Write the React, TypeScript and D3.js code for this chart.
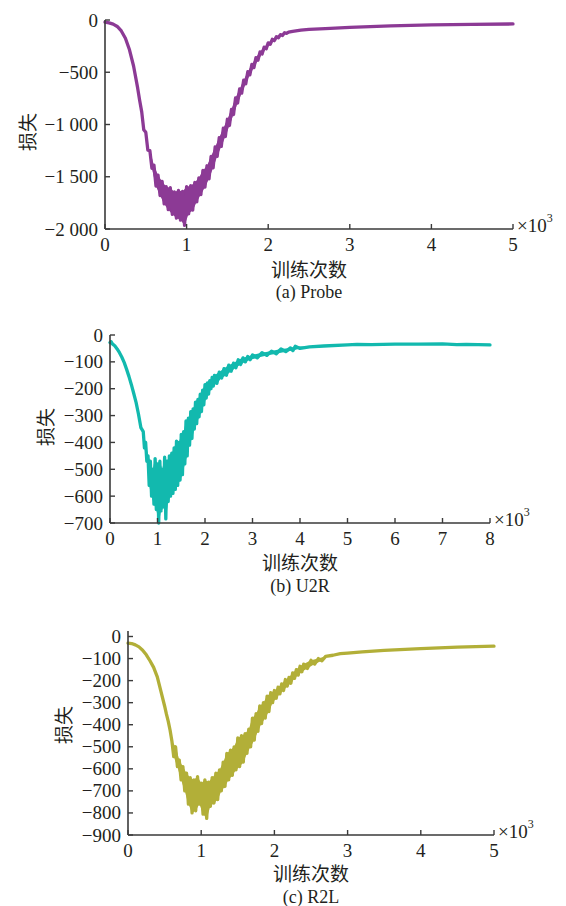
import React from "react";
import * as d3 from "d3";

// ---------- DATA ----------
// (a) Probe: iterations and loss
const probeIter = [
  0, 50, 100, 150, 200, 250, 300, 350, 400, 425,
  450, 475, 500, 525, 550, 575, 600, 625, 650, 675, 700, 725, 750, 775, 800, 825, 850, 875, 900, 925,
  950, 975, 1000, 1025, 1050, 1075, 1100, 1125, 1150, 1175, 1200, 1225, 1250, 1275, 1300, 1325, 1350, 1375,
  1400, 1425, 1450, 1475, 1500, 1525, 1550, 1575, 1600, 1625, 1650, 1675, 1700, 1725, 1750, 1775, 1800,
  1825, 1850, 1875, 1900, 1925, 1950, 1975, 2000, 2025, 2050, 2075, 2100, 2125, 2150, 2175, 2200, 2225,
  2250, 2300, 2400, 2500, 2700, 3000, 3500, 4000, 4500, 5000,
];
const probeLoss = [
  -20, -28, -40, -62, -105, -175, -285, -440, -650, -770,
  -879, -1050, -1075, -1245, -1250, -1420, -1390, -1590, -1485, -1680, -1545, -1760, -1595, -1815, -1605,
  -1860, -1645, -1895, -1630, -1915, -1640, -1965, -1595, -1855, -1585, -1820, -1555, -1740, -1510, -1670,
  -1440, -1600, -1395, -1520, -1305, -1415, -1215, -1305, -1125, -1210, -1035, -1115, -950, -1010, -855,
  -905, -745, -795, -660, -700, -575, -610, -495, -525, -425, -455, -360, -385, -305, -325, -260, -276,
  -219, -233, -185, -198, -160, -170, -140, -148, -122, -128,
  -116, -108, -97, -89, -82, -70, -56, -46, -41, -38,
];

// (b) U2R
const u2rIter = [
  0, 25, 50, 100, 150, 200, 250, 300, 350, 400, 450, 500, 550, 600, 650,
  700, 725, 750, 775, 800, 825, 850, 875, 900, 925, 950, 975, 1000, 1025, 1050, 1075, 1100, 1125, 1150,
  1175, 1200, 1225, 1250, 1275, 1300, 1325, 1350, 1375, 1400, 1425, 1450, 1475, 1500, 1525, 1550, 1575,
  1600, 1625, 1650, 1675, 1700, 1725, 1750, 1775, 1800, 1825, 1850, 1875, 1900, 1925, 1950, 1975, 2000,
  2025, 2050, 2075, 2100, 2125, 2150, 2175, 2200, 2250, 2300, 2350, 2400, 2450, 2500, 2550, 2600, 2650,
  2700, 2750, 2800, 2850, 2900, 2950, 3000, 3100, 3200, 3300, 3400, 3500, 3600, 3700, 3800, 3850, 3900,
  4000, 4200, 4500, 5000, 5200, 5500, 6000, 6500, 7000, 7300, 7500, 8000,
];
const u2rLoss = [
  -28, -25, -33, -40, -52, -66, -83, -103, -128, -155, -185, -218, -252, -295, -345,
  -360, -420, -400, -470, -450, -560, -470, -600, -500, -630, -460, -650, -480, -700, -470, -655, -500,
  -640, -455, -685, -470, -620, -450, -600, -440, -590, -420, -575, -395, -560, -400, -540, -370, -520,
  -360, -480, -320, -450, -310, -410, -285, -385, -275, -350, -250, -330, -240, -305, -220, -285, -205,
  -260, -185, -235, -178, -220, -170, -200, -158, -190, -150, -180, -138, -160, -125, -150, -112, -135,
  -105, -122, -92, -110, -85, -100, -80, -92, -74, -85, -66, -76, -60, -70, -52, -62, -48, -58, -42,
  -50, -44, -41, -37, -35, -36, -34, -34, -33, -36, -35, -37,
];

// (c) R2L
const r2lIter = [
  0, 50, 100, 150, 200, 250, 300, 350, 400, 450, 500, 525, 550, 575,
  600, 625, 650, 675, 700, 725, 750, 775, 800, 825, 850, 875, 900, 925, 950, 975, 1000, 1025, 1050, 1075,
  1100, 1125, 1150, 1175, 1200, 1225, 1250, 1275, 1300, 1325, 1350, 1375, 1400, 1425, 1450, 1475, 1500,
  1525, 1550, 1575, 1600, 1625, 1650, 1675, 1700, 1725, 1750, 1775, 1800, 1825, 1850, 1875, 1900, 1925,
  1950, 1975, 2000, 2025, 2050, 2075, 2100, 2125, 2150, 2175, 2200, 2225, 2250, 2275, 2300, 2325, 2350,
  2375, 2400, 2450, 2500, 2550, 2600, 2650, 2700, 2800, 2900, 3000, 3200, 3500, 4000, 4500, 5000,
];
const r2lLoss = [
  -30, -32, -38, -47, -62, -83, -110, -140, -183, -249, -315, -352, -385, -425,
  -475, -545, -500, -590, -560, -650, -590, -700, -620, -760, -640, -800, -650, -790, -635, -760, -665,
  -805, -650, -825, -660, -770, -640, -755, -620, -740, -605, -700, -570, -680, -530, -650, -515, -630,
  -500, -605, -460, -590, -450, -570, -440, -530, -420, -500, -370, -470, -350, -430, -315, -395, -300,
  -370, -270, -340, -255, -300, -245, -280, -230, -260, -215, -245, -195, -225, -185, -212, -165, -190,
  -150, -175, -135, -160, -125, -145, -108, -125, -100, -110, -90, -85, -78, -75, -70, -63, -55, -48, -44,
];

// axes
const probeYTicks = [0, -500, -1000, -1500, -2000];
const probeYLabels = ["0", "−500", "−1 000", "−1 500", "−2 000"];
const probeXTicks = [0, 1, 2, 3, 4, 5];

const u2rYTicks = [0, -100, -200, -300, -400, -500, -600, -700];
const u2rYLabels = ["0", "−100", "−200", "−300", "−400", "−500", "−600", "−700"];
const u2rXTicks = [0, 1, 2, 3, 4, 5, 6, 7, 8];

const r2lYTicks = [0, -100, -200, -300, -400, -500, -600, -700, -800, -900];
const r2lYLabels = ["0", "−100", "−200", "−300", "−400", "−500", "−600", "−700", "−800", "−900"];
const r2lXTicks = [0, 1, 2, 3, 4, 5];

const captions = ["(a) Probe", "(b) U2R", "(c) R2L"];
const xTitle = "训练次数";
const yTitle = "损失";

// ---------- LAYOUT ----------
const SERIF = "'Liberation Serif', 'Noto Serif', 'DejaVu Serif', serif";
const CJK = "'Noto Sans CJK SC', 'Noto Sans CJK JP', sans-serif";
const AXIS = "#3a3a3a";
const TEXT = "#231f20";

type PanelProps = {
  iters: number[];
  loss: number[];
  color: string;
  yTicks: number[];
  yLabels: string[];
  xTicks: number[];
  left: number;
  right: number;
  top: number;
  bottom: number;
  axisTop: number;
  yTitlePos: [number, number];
  xTitleY: number;
  captionY: number;
  caption: string;
};

function envelope(iters: number[], loss: number[]) {
  const up: [number, number][] = [];
  const lo: [number, number][] = [];
  const n = loss.length;
  for (let i = 0; i < n; i++) {
    const a = i > 0 ? loss[i - 1] : loss[i];
    const b = i < n - 1 ? loss[i + 1] : loss[i];
    const v = loss[i];
    const isMax = v >= a && v >= b;
    const isMin = v <= a && v <= b;
    if (!isMin || i === 0 || i === n - 1) up.push([iters[i], v]);
    if (!isMax || i === 0 || i === n - 1) lo.push([iters[i], v]);
  }
  return { up, lo };
}

function Panel(p: PanelProps) {
  const xMax = p.xTicks[p.xTicks.length - 1];
  const yMin = p.yTicks[p.yTicks.length - 1];
  const x = d3.scaleLinear().domain([0, xMax * 1000]).range([p.left, p.right]);
  const y = d3.scaleLinear().domain([yMin, 0]).range([p.bottom, p.top]);
  const pts = p.iters.map((it, i) => [it, p.loss[i]] as [number, number]);
  const line = d3
    .line<[number, number]>()
    .x((d) => x(d[0]))
    .y((d) => y(d[1]));
  const env = envelope(p.iters, p.loss);
  const poly = [...env.up, ...env.lo.slice().reverse()];
  const cx = (p.left + p.right) / 2;
  const serif = { fontFamily: SERIF };
  const cjk = { fontFamily: CJK };
  return (
    <g>
      <path d={(line(poly) || "") + "Z"} fill={p.color} stroke="none" />
      <path
        d={line(pts) || ""}
        fill="none"
        stroke={p.color}
        strokeWidth={3.3}
        strokeLinejoin="round"
        strokeLinecap="round"
      />
      {/* axes */}
      <line x1={p.left} x2={p.left} y1={p.axisTop} y2={p.bottom} stroke={AXIS} strokeWidth={1.6} />
      <line x1={p.left} x2={p.right} y1={p.bottom} y2={p.bottom} stroke={AXIS} strokeWidth={1.6} />
      {p.yTicks.map((t, i) => (
        <g key={"y" + t}>
          <line x1={p.left} x2={p.left + 5} y1={y(t)} y2={y(t)} stroke={AXIS} strokeWidth={1.4} />
          <text x={p.left - 7} y={y(t) + 6.5} textAnchor="end" style={serif} fontSize={19} fill={TEXT}>
            {p.yLabels[i]}
          </text>
        </g>
      ))}
      {p.xTicks.map((t) => (
        <g key={"x" + t}>
          <line x1={x(t * 1000)} x2={x(t * 1000)} y1={p.bottom} y2={p.bottom - 5} stroke={AXIS} strokeWidth={1.4} />
          <text x={x(t * 1000)} y={p.bottom + 21.5} textAnchor="middle" style={serif} fontSize={19} fill={TEXT}>
            {t}
          </text>
        </g>
      ))}
      <text x={p.right + 4} y={p.bottom + 3} style={serif} fontSize={19} fill={TEXT}>
        ×10
        <tspan fontSize={12} dy={-10}>
          3
        </tspan>
      </text>
      <text
        transform={`translate(${p.yTitlePos[0]},${p.yTitlePos[1]}) rotate(-90)`}
        textAnchor="middle"
        dominantBaseline="central"
        style={cjk}
        fontSize={19}
        fill={TEXT}
      >
        {yTitle}
      </text>
      <text x={cx} y={p.xTitleY + 8} textAnchor="middle" style={cjk} fontSize={19} fill={TEXT}>
        {xTitle}
      </text>
      <text x={cx} y={p.captionY + 6} textAnchor="middle" style={serif} fontSize={18} fill={TEXT}>
        {p.caption}
      </text>
    </g>
  );
}

export default function App() {
  return (
    <svg
      width={566}
      height={906}
      style={{ position: "absolute", left: 0, top: 0, background: "#fff" }}
    >
      <rect width={566} height={906} fill="#fff" />
      <Panel
        iters={probeIter}
        loss={probeLoss}
        color="#8c3a95"
        yTicks={probeYTicks}
        yLabels={probeYLabels}
        xTicks={probeXTicks}
        left={105}
        right={513}
        top={20}
        bottom={229}
        axisTop={20}
        yTitlePos={[26, 132]}
        xTitleY={268.5}
        captionY={292}
        caption={captions[0]}
      />
      <Panel
        iters={u2rIter}
        loss={u2rLoss}
        color="#12b9ae"
        yTicks={u2rYTicks}
        yLabels={u2rYLabels}
        xTicks={u2rXTicks}
        left={110}
        right={490}
        top={335}
        bottom={523}
        axisTop={335}
        yTitlePos={[44, 427]}
        xTitleY={561.5}
        captionY={586}
        caption={captions[1]}
      />
      <Panel
        iters={r2lIter}
        loss={r2lLoss}
        color="#b2af38"
        yTicks={r2lYTicks}
        yLabels={r2lYLabels}
        xTicks={r2lXTicks}
        left={128}
        right={494}
        top={636.5}
        bottom={835}
        axisTop={631}
        yTitlePos={[62, 725]}
        xTitleY={873}
        captionY={897}
        caption={captions[2]}
      />
    </svg>
  );
}
